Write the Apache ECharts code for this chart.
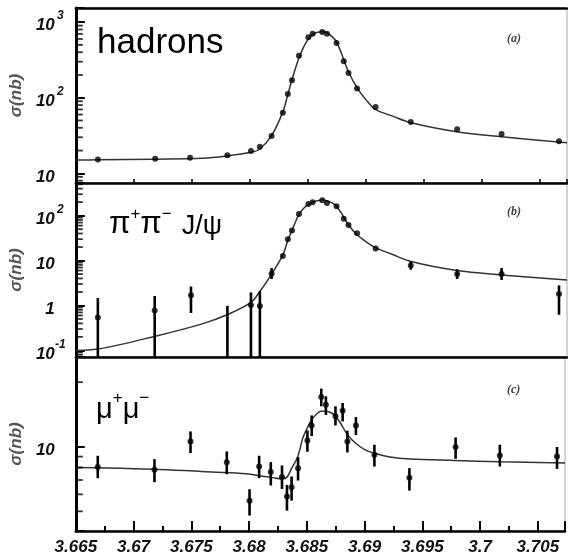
<!DOCTYPE html>
<html>
<head>
<meta charset="utf-8">
<script src="https://cdn.jsdelivr.net/npm/echarts@6/dist/echarts.min.js"></script>
<style>
html,body{margin:0;padding:0;background:#fff;}
#chart{width:568px;height:558px;}
</style>
</head>
<body>
<div id="chart"></div>
<script>
// ---------------- DATA ----------------
// x tick values (GeV)
const xTicks = [3.665, 3.67, 3.675, 3.68, 3.685, 3.69, 3.695, 3.7, 3.705];

// (a) hadrons
const hadE = [3.6669, 3.67184, 3.67485, 3.67807, 3.6801, 3.68087, 3.68188, 3.68285, 3.68328, 3.68364, 3.68424, 3.68505, 3.68542, 3.68625, 3.68665, 3.68748, 3.6881, 3.68851, 3.68925, 3.69085, 3.69388, 3.69788, 3.70171, 3.70666];
const hadSigma = [15.3, 15.6, 16.1, 17.3, 19.7, 22.5, 31.1, 63.3, 112, 170, 360, 630, 703, 740, 703, 530, 303, 212, 133, 75.3, 47.7, 38.2, 33.1, 26.5];
const hadFitE = [3.665, 3.6669, 3.67178, 3.6759, 3.67804, 3.6801, 3.68087, 3.6819, 3.68285, 3.68328, 3.68362, 3.68422, 3.68465, 3.68508, 3.68542, 3.68585, 3.6862, 3.68663, 3.68714, 3.68748, 3.68791, 3.68851, 3.68928, 3.69005, 3.69082, 3.6922, 3.69391, 3.69785, 3.70171, 3.70735];
const hadFit = [15.0, 15.1, 15.4, 15.8, 17.0, 19.0, 21.0, 32, 65, 110, 170, 330, 470, 610, 690, 735, 747, 724, 635, 550, 385, 221, 133, 93, 70, 58, 46.7, 35.5, 30.5, 25.4];

// (b) pi+ pi- J/psi
const pipiE = [3.6669, 3.6718, 3.67493, 3.67807, 3.6801, 3.68087, 3.68188, 3.68285, 3.68328, 3.68364, 3.68424, 3.68505, 3.68542, 3.68625, 3.68665, 3.68748, 3.6881, 3.68851, 3.68925, 3.69085, 3.69388, 3.69788, 3.70171, 3.70666];
const pipiSigma = [0.54, 0.77, 1.70, null, 1.02, 0.98, 5.06, 12.7, 29.9, 46.4, 109, 182, 199, 220, 192, 162, 85.7, 62.1, 40.6, 18.5, 7.74, 4.99, 4.99, 1.79];
// 0.01 = error bar runs below the lower edge of the plot
const pipiErrLo = [0.01, 0.01, 0.68, 0.01, 0.01, 0.01, 3.9, null, null, null, null, null, null, null, null, null, null, null, null, null, 6.25, 3.9, 3.7, 0.62];
const pipiErrHi = [1.46, 1.62, 2.64, 0.98, 1.95, 2.09, 6.8, null, null, null, null, null, null, null, null, null, null, null, null, null, 9.5, 6.4, 6.8, 2.8];
const pipiFitE = [3.665, 3.6669, 3.67178, 3.6759, 3.67804, 3.6801, 3.68087, 3.6819, 3.68285, 3.68328, 3.68362, 3.68422, 3.68465, 3.68508, 3.68542, 3.68585, 3.6862, 3.68663, 3.68714, 3.68748, 3.68791, 3.68851, 3.68928, 3.69005, 3.69082, 3.6922, 3.69391, 3.69785, 3.70171, 3.70735];
const pipiFit = [0.100, 0.107, 0.205, 0.39, 0.62, 1.17, 2.05, 5.06, 13.4, 28, 46, 104, 146, 179, 200, 215, 223, 215, 189, 159, 112, 62, 37, 26, 19.4, 14, 9.5, 6.0, 4.8, 3.7];

// (c) mu+ mu-
const mumuE = [3.6669, 3.67181, 3.67493, 3.67807, 3.68004, 3.68087, 3.68188, 3.68285, 3.68328, 3.68368, 3.68424, 3.68505, 3.68542, 3.68625, 3.68665, 3.68748, 3.6881, 3.68851, 3.68925, 3.69085, 3.69388, 3.69788, 3.70171, 3.70666];
const mumuSigma = [8.04, 7.81, 10.59, 8.48, 5.60, 8.09, 7.62, 7.22, 5.86, 6.48, 7.95, 10.70, 12.57, 17.07, 15.71, 13.86, 14.73, 10.59, 12.57, 9.18, 7.17, 9.97, 9.11, 9.01];
const mumuErrLo = [7.14, 6.84, 9.35, 7.45, 4.78, 7.14, 6.60, 6.36, 5.04, 5.61, 6.96, 9.48, 11.22, 15.43, 14.07, 12.57, 13.13, 9.41, 11.34, 8.09, 6.25, 8.79, 8.09, 7.89];
const mumuErrHi = [9.08, 8.76, 11.79, 9.51, 6.34, 9.08, 8.48, 8.18, 6.64, 7.27, 8.95, 11.92, 14.0, 18.66, 17.18, 15.43, 16.0, 11.88, 13.76, 10.22, 7.95, 11.05, 10.22, 9.97];
const mumuFitE = [3.665, 3.6669, 3.67178, 3.6759, 3.67804, 3.6801, 3.68087, 3.6819, 3.68285, 3.68328, 3.68362, 3.68422, 3.68465, 3.68508, 3.68542, 3.68585, 3.6862, 3.68663, 3.68714, 3.68748, 3.68791, 3.68851, 3.68928, 3.69005, 3.69082, 3.6922, 3.69391, 3.69785, 3.70171, 3.70735];
const mumuFit = [8.0, 7.98, 7.86, 7.67, 7.58, 7.45, 7.32, 7.2, 7.09, 7.22, 7.81, 9.01, 10.98, 12.36, 13.37, 14.21, 14.62, 14.62, 14.37, 13.86, 12.9, 11.38, 10.33, 9.68, 9.35, 8.95, 8.76, 8.63, 8.51, 8.39];

// log-axis minor tick values
const minorA = [8, 9, 20, 30, 40, 50, 60, 70, 80, 90, 200, 300, 400, 500, 600, 700, 800, 900];
const minorB = [0.08, 0.09, 0.2, 0.3, 0.4, 0.5, 0.6, 0.7, 0.8, 0.9, 2, 3, 4, 5, 6, 7, 8, 9, 20, 30, 40, 50, 60, 70, 80, 90, 200, 300, 400, 500];
const minorC = [5, 6, 7, 8, 9, 20];

// axis ranges
const xMin = 3.665, xMax = 3.70735;
const yRangeA = [7.45, 1540];
const yRangeB = [0.0713, 533];
const yRangeC = [4.05, 26.2];

// ---------------- CHART ----------------
const FONT = "'Liberation Sans', Arial, sans-serif";
const chart = echarts.init(document.getElementById('chart'), null, {renderer: 'canvas'});

function pairs(xs, ys) { return xs.map((x, i) => [x, ys[i]]); }
function bars(xs, lo, hi) {
  const out = [];
  xs.forEach((x, i) => { if (lo[i] != null && hi[i] != null) out.push([x, lo[i], hi[i]]); });
  return out;
}

function decadeLabel(v) {
  const e = Math.log10(v);
  const r = Math.round(e);
  if (Math.abs(e - r) > 1e-6) return '';
  if (r === 1) return '{b|10}{e|}';
  if (r === 0) return '{b|1}{e|}';
  return '{b|10}{s|' + r + '}';
}

const yRich = {
  b: {fontSize: 17, fontWeight: 'bold', fontStyle: 'italic', fontFamily: FONT, color: '#111', lineHeight: 24, verticalAlign: 'bottom'},
  s: {fontSize: 12, fontWeight: 'bold', fontStyle: 'italic', fontFamily: FONT, color: '#111', lineHeight: 24, verticalAlign: 'top', width: 11, align: 'left'},
  e: {width: 11, lineHeight: 24}
};

const grids = [
  {left: 73, right: 1, top: 8, height: 175},
  {left: 73, right: 1, top: 183, height: 174},
  {left: 73, right: 1, top: 357, height: 174}
].map(g => Object.assign(g, {show: true, borderColor: '#aaa', borderWidth: 1, backgroundColor: 'transparent'}));

function xAxis(idx, opts) {
  return Object.assign({
    type: 'value', gridIndex: idx, min: xMin, max: xMax, interval: 0.005,
    axisLine: {show: true, onZero: false, lineStyle: {color: '#000', width: 2.5}},
    axisTick: {show: false}, axisLabel: {show: false}, splitLine: {show: false}
  }, opts);
}

function yAxis(idx, range) {
  return {
    type: 'log', logBase: 10, gridIndex: idx, min: range[0], max: range[1],
    name: 'σ(nb)', nameLocation: 'middle', nameGap: 36, nameRotate: 90,
    nameTextStyle: {fontSize: 17, fontStyle: 'italic', fontWeight: 'bold', fontFamily: FONT, color: '#555'},
    axisLine: {show: true, lineStyle: {color: '#000', width: 3}},
    axisTick: {show: true, inside: true, length: 9, lineStyle: {color: '#000', width: 2}},
    axisLabel: {show: true, margin: 10, formatter: decadeLabel, rich: yRich, showMinLabel: true, showMaxLabel: true},
    splitLine: {show: false}, minorTick: {show: false}
  };
}

function errSeries(idx, data) {
  return {
    type: 'custom', xAxisIndex: idx, yAxisIndex: idx, data: data, silent: true, z: 3,
    renderItem: function (params, api) {
      const p1 = api.coord([api.value(0), api.value(1)]);
      const p2 = api.coord([api.value(0), api.value(2)]);
      const cs = params.coordSys;
      const clampY = y => Math.min(Math.max(y, cs.y), cs.y + cs.height);
      return {type: 'line', shape: {x1: p1[0], y1: clampY(p1[1]), x2: p2[0], y2: clampY(p2[1])},
              style: {stroke: '#000', lineWidth: 2.6}};
    }
  };
}

function pointSeries(idx, data) {
  return {type: 'scatter', xAxisIndex: idx, yAxisIndex: idx, data: data, symbol: 'circle', symbolSize: 6,
          itemStyle: {color: '#000'}, clip: true, silent: true, z: 4};
}

function fitSeries(idx, data) {
  return {type: 'line', xAxisIndex: idx, yAxisIndex: idx, data: data, smooth: 0.35, showSymbol: false,
          lineStyle: {color: '#333', width: 1.5}, silent: true, z: 2};
}

function minorSeries(idx, vals) {
  return {type: 'scatter', xAxisIndex: idx, yAxisIndex: idx, data: vals.map(v => [xMin, v]),
          symbol: 'rect', symbolSize: [7, 1.8], symbolOffset: [3.5, 0], itemStyle: {color: '#000'},
          clip: false, silent: true, z: 5};
}

function textTitle(text, left, top, rich) {
  return {text: text, left: left, top: top, padding: 0, textStyle: {rich: rich, fontFamily: FONT, fontWeight: 'normal'}};
}

const bigRich = {
  n: {fontSize: 35, fontFamily: FONT, fontWeight: 'normal', color: '#000', lineHeight: 38}
};
const pipiRich = {
  g: {fontSize: 31, fontFamily: FONT, fontWeight: 'normal', color: '#000', lineHeight: 34, verticalAlign: 'bottom'},
  s: {fontSize: 17, fontFamily: FONT, fontWeight: 'normal', color: '#000', lineHeight: 18, verticalAlign: 'top'},
  n: {fontSize: 27, fontFamily: FONT, fontWeight: 'normal', color: '#000', lineHeight: 34, verticalAlign: 'bottom', padding: [0, 0, 0, 10]}
};
const mumuRich = {
  g: {fontSize: 29, fontFamily: FONT, fontWeight: 'normal', color: '#000', lineHeight: 34, verticalAlign: 'bottom'},
  s: {fontSize: 17, fontFamily: FONT, fontWeight: 'normal', color: '#000', lineHeight: 18, verticalAlign: 'top'}
};
const panelRich = {
  p: {fontSize: 12, fontFamily: "'Liberation Serif', 'DejaVu Serif', serif", fontStyle: 'italic', fontWeight: 'bold', color: '#444'}
};

const option = {
  animation: false,
  backgroundColor: '#fff',
  grid: grids,
  title: [
    textTitle('{n|hadrons}', 97, 24, bigRich),
    textTitle('{g|π}{s|+}{g|π}{s|−}{n|J/ψ}', 109, 206, pipiRich),
    textTitle('{g|μ}{s|+}{g|μ}{s|−}', 96, 390, mumuRich),
    textTitle('{p|(a)}', 507, 33, panelRich),
    textTitle('{p|(b)}', 507, 206, panelRich),
    textTitle('{p|(c)}', 507, 384, panelRich)
  ],
  xAxis: [
    xAxis(0, {axisTick: {show: true, inside: true, length: 4, lineStyle: {color: '#000', width: 1.5}}}),
    xAxis(1, {}),
    xAxis(2, {
      axisTick: {show: true, inside: true, length: 10, lineStyle: {color: '#000', width: 2}},
      minorTick: {show: true, splitNumber: 2, length: 5, lineStyle: {color: '#000', width: 2}},
      axisLabel: {show: true, margin: 8, fontSize: 17, fontWeight: 'bold', fontStyle: 'italic', fontFamily: FONT, color: '#111',
        formatter: function (v) {
          const k = Math.round(v / 0.005);
          if (Math.abs(v - k * 0.005) > 1e-7 || xTicks.indexOf(+(k * 0.005).toFixed(3)) < 0) return '';
          return String(+v.toFixed(3));
        }}
    }),
    xAxis(0, {position: 'top', axisLine: {show: true, onZero: false, lineStyle: {color: '#000', width: 2.5}}})
  ],
  yAxis: [yAxis(0, yRangeA), yAxis(1, yRangeB), yAxis(2, yRangeC)],
  series: [
    fitSeries(0, pairs(hadFitE, hadFit)),
    pointSeries(0, pairs(hadE, hadSigma)),
    minorSeries(0, minorA),

    fitSeries(1, pairs(pipiFitE, pipiFit)),
    errSeries(1, bars(pipiE, pipiErrLo, pipiErrHi)),
    pointSeries(1, pairs(pipiE, pipiSigma).filter(p => p[1] != null)),
    minorSeries(1, minorB),

    fitSeries(2, pairs(mumuFitE, mumuFit)),
    errSeries(2, bars(mumuE, mumuErrLo, mumuErrHi)),
    pointSeries(2, pairs(mumuE, mumuSigma)),
    minorSeries(2, minorC)
  ]
};
chart.setOption(option);
</script>
</body>
</html>
